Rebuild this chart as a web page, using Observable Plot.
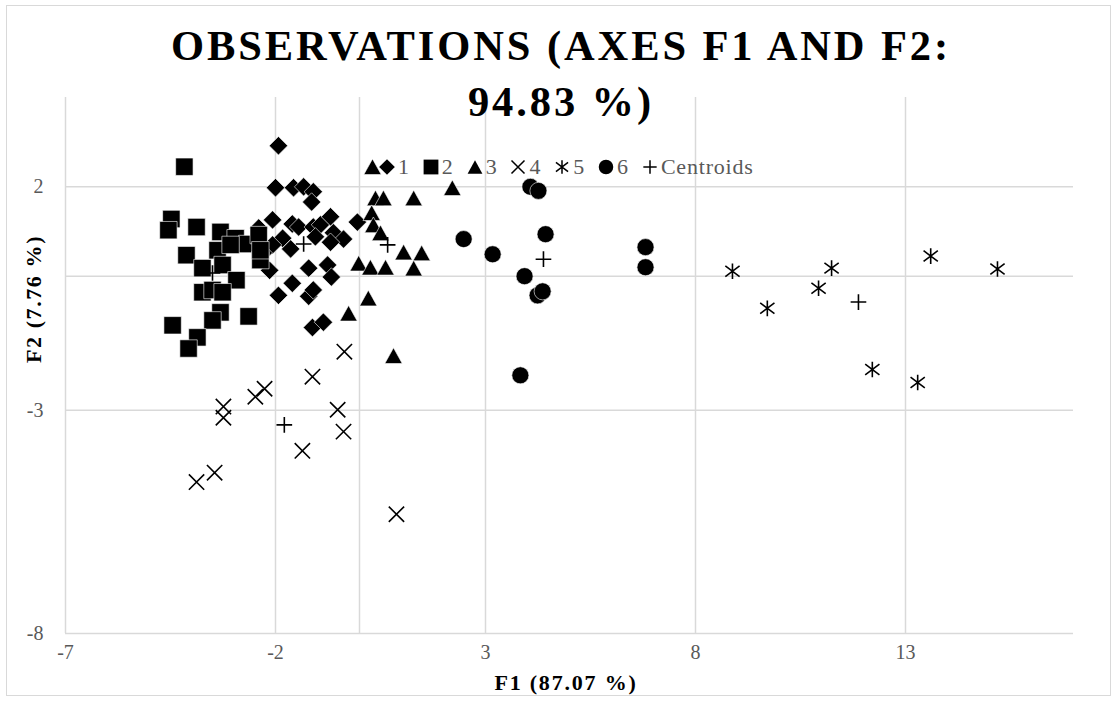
<!DOCTYPE html>
<html><head><meta charset="utf-8">
<script src="https://cdn.jsdelivr.net/npm/d3@7"></script>
<script src="https://cdn.jsdelivr.net/npm/@observablehq/plot@0.6"></script>
<style>
html,body{margin:0;padding:0;background:#fff;}
#wrap{position:relative;width:1118px;height:701px;overflow:hidden;font-family:"Liberation Serif","Times New Roman",serif;}
#frame{position:absolute;left:6px;top:5px;width:1105px;height:691px;border:1.5px solid #d9d9d9;box-sizing:border-box;pointer-events:none;}
#chart{position:absolute;left:0;top:0;}
#title{position:absolute;left:0;width:1122px;top:18px;text-align:center;font-weight:bold;font-size:42.5px;letter-spacing:2.9px;line-height:56px;color:#000;}
#legend{position:absolute;left:378px;top:155px;height:24px;display:flex;align-items:center;font-size:22px;letter-spacing:0.8px;color:#595959;}
#legend .item{display:flex;align-items:center;margin-right:12px;}
#legend svg{margin-right:2px;}
#xtitle{position:absolute;left:0;width:1132px;top:670px;text-align:center;font-weight:bold;font-size:22px;letter-spacing:1.8px;}
#ytitle{position:absolute;left:34px;top:299px;transform:translate(-50%,-50%) rotate(-90deg);white-space:nowrap;font-weight:bold;font-size:22px;letter-spacing:1.6px;}
</style>
</head><body>
<div id="wrap">
  <div id="chart"></div>
  <div id="frame"></div>
  <div id="title">OBSERVATIONS (AXES F1 AND F2:<br>94.83 %)</div>
  <div id="legend"></div>
  <div id="xtitle">F1 (87.07 %)</div>
  <div id="ytitle">F2 (7.76 %)</div>
</div>
<script>
// ---- data (F1, F2) ----
const class1 = [[-1.93,2.92],[-2.00,1.98],[-1.57,1.98],[-1.33,2.00],[-1.10,1.89],[-1.14,1.66],[-2.07,1.26],[-1.60,1.17],[-1.45,1.10],[-1.10,1.10],[-0.93,1.15],[-0.69,1.33],[-0.05,1.21],[-0.62,0.97],[-0.38,0.83],[-1.05,0.88],[-0.69,0.76],[-1.83,0.85],[-2.07,0.70],[-1.64,0.61],[-2.40,1.08],[-2.29,0.52],[-2.14,0.13],[-1.21,0.18],[-0.76,0.25],[-0.67,-0.02],[-1.60,-0.16],[-1.93,-0.43],[-1.21,-0.45],[-1.10,-0.31],[-1.12,-1.15],[-0.86,-1.03]];
const class2 = [[-4.17,2.45],[-4.48,1.28],[-4.55,1.03],[-3.88,1.10],[-3.31,0.99],[-2.95,0.85],[-2.67,0.72],[-2.40,0.92],[-4.12,0.47],[-3.74,0.18],[-3.38,0.58],[-3.26,0.25],[-2.36,0.36],[-2.93,-0.09],[-3.74,-0.36],[-3.50,-0.31],[-3.26,-0.36],[-3.31,-0.81],[-3.50,-0.99],[-2.64,-0.90],[-4.45,-1.10],[-3.86,-1.37],[-4.07,-1.62],[-3.07,0.70],[-2.36,0.58]];
const class3 = [[0.31,2.45],[0.38,1.75],[0.57,1.75],[1.29,1.75],[2.21,1.98],[0.29,1.42],[0.33,1.15],[0.50,0.97],[1.05,0.54],[1.48,0.52],[-0.02,0.29],[0.26,0.20],[0.62,0.20],[1.29,0.18],[0.21,-0.49],[-0.26,-0.83],[0.81,-1.78]];
const class4 = [[-0.36,-1.69],[-1.12,-2.25],[-2.26,-2.52],[-2.48,-2.70],[-3.24,-2.92],[-3.24,-3.17],[-0.52,-2.99],[-0.38,-3.48],[-1.36,-3.91],[-3.45,-4.40],[-3.88,-4.61],[0.88,-5.33]];
const class5 = [[8.88,0.11],[9.71,-0.72],[10.93,-0.27],[11.24,0.18],[12.21,-2.09],[13.29,-2.38],[13.60,0.45],[15.19,0.16]];
const class6 = [[4.07,2.00],[4.26,1.91],[4.43,0.94],[3.17,0.49],[2.48,0.83],[3.93,0.00],[4.24,-0.43],[4.36,-0.34],[3.83,-2.22],[6.81,0.65],[6.81,0.20]];
const centroids = [[-1.33,0.72],[0.67,0.70],[-3.50,0.07],[-1.79,-3.33],[11.88,-0.58],[4.38,0.38]];
const legendLabels = ["1","2","3","4","5","6","Centroids"];
const xTicks = [-7,-2,3,8,13];
const yTicks = [2,-3,-8];

// ---- marker shapes ----
const rad = s => Math.sqrt(s/Math.PI);
const symDiamond = {draw(c,s){const r=rad(s)*1.06;c.moveTo(0,-r);c.lineTo(r,0);c.lineTo(0,r);c.lineTo(-r,0);c.closePath();}};
const symSquare = {draw(c,s){const r=rad(s);c.moveTo(-r,-r);c.lineTo(r,-r);c.lineTo(r,r);c.lineTo(-r,r);c.closePath();}};
const symTriangle = {draw(c,s){const r=rad(s);c.moveTo(0,-0.9*r);c.lineTo(r,0.9*r);c.lineTo(-r,0.9*r);c.closePath();}};
const symTimes = {draw(c,s){const r=rad(s)*0.88;c.moveTo(-r,-r);c.lineTo(r,r);c.moveTo(r,-r);c.lineTo(-r,r);}};
const symStar = {draw(c,s){const r=rad(s)*0.82;c.moveTo(-r,-r*0.75);c.lineTo(r,r*0.75);c.moveTo(r,-r*0.75);c.lineTo(-r,r*0.75);c.moveTo(0,-r*1.1);c.lineTo(0,r*1.1);}};
const symCircle = {draw(c,s){const r=rad(s)*0.98;c.moveTo(r,0);c.arc(0,0,r,0,2*Math.PI);c.closePath();}};
const symPlus = {draw(c,s){const r=rad(s)*0.9;c.moveTo(-r,0);c.lineTo(r,0);c.moveTo(0,-r);c.lineTo(0,r);}};

const series = [
  {data: class1, symbol: symDiamond, filled: true},
  {data: class2, symbol: symSquare, filled: true},
  {data: class3, symbol: symTriangle, filled: true},
  {data: class4, symbol: symTimes, filled: false},
  {data: class5, symbol: symStar, filled: false},
  {data: class6, symbol: symCircle, filled: true},
  {data: centroids, symbol: symPlus, filled: false}
];

const R = 8.7;
const grid = {stroke: "#d9d9d9", strokeOpacity: 1, strokeWidth: 1.5};
const fmt = d => String(d);

const plot = Plot.plot({
  width: 1118,
  height: 701,
  marginLeft: 65,
  marginRight: 45,
  marginTop: 97,
  marginBottom: 68,
  style: {fontFamily: "'Liberation Serif','Times New Roman',serif", fontSize: "20px", background: "transparent"},
  x: {domain: [-7, 17]},
  y: {domain: [-8, 4]},
  marks: [
    Plot.gridX([...xTicks, 0], grid),
    Plot.gridY([...yTicks, 0], grid),
    Plot.axisX(xTicks, {tickSize: 0, tickPadding: 11, fill: "#595959", fontSize: 20, tickFormat: fmt, label: null}),
    Plot.axisY(yTicks, {tickSize: 0, tickPadding: 22, fill: "#595959", fontSize: 20, tickFormat: fmt, label: null}),
    ...series.map(s => Plot.dot(s.data, {
      x: d => d[0], y: d => d[1], symbol: s.symbol, r: R,
      fill: s.filled ? "black" : "none",
      stroke: s.filled ? "white" : "black",
      strokeWidth: s.filled ? 0.6 : 1.6
    }))
  ]
});
document.getElementById("chart").appendChild(plot);

// ---- legend ----
const leg = document.getElementById("legend");
series.forEach((s, i) => {
  const item = document.createElement("div");
  item.className = "item";
  const size = Math.PI * 7.4 * 7.4;
  const path = d3.symbol(s.symbol, size)();
  item.innerHTML = `<svg width="18" height="18" viewBox="-9 -9 18 18"><path d="${path}" fill="${s.filled ? "black" : "none"}" stroke="${s.filled ? "none" : "black"}" stroke-width="1.5"/></svg><span>${legendLabels[i]}</span>`;
  leg.appendChild(item);
});
</script>
</body></html>
